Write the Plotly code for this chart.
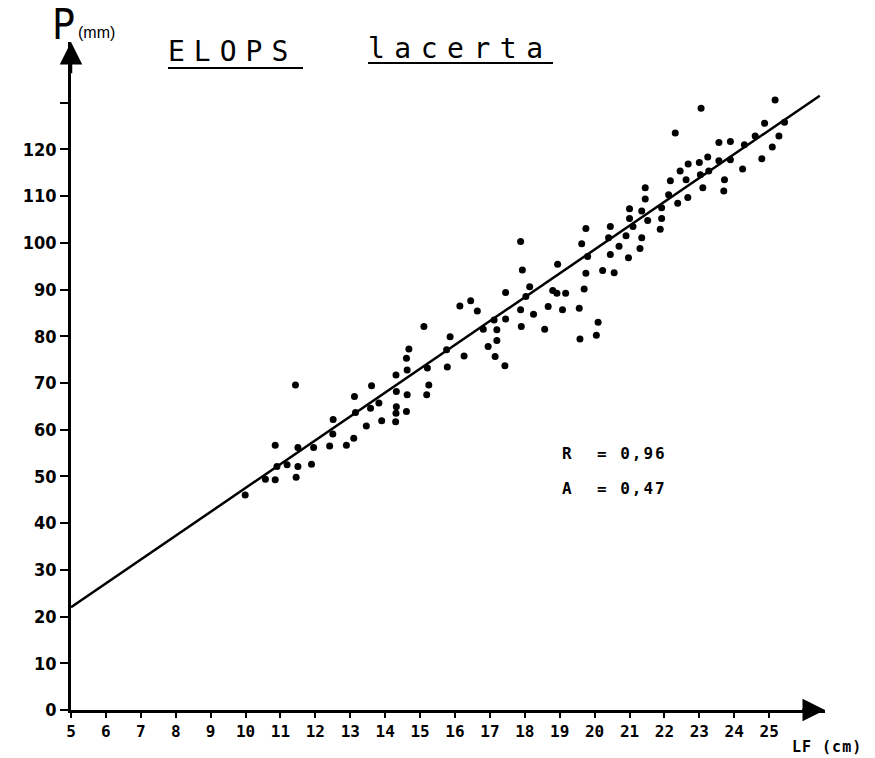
import plotly.graph_objects as go

# ---- data ----
lf_cm = [9.99, 10.57, 10.85, 10.85, 10.9, 11.19, 11.45, 11.5, 11.5, 11.89, 11.95, 11.43, 12.41, 12.51, 12.5,
         12.89, 13.1, 13.15, 13.12, 13.46, 13.61, 13.58, 13.82, 13.9, 14.3, 14.31, 14.32, 14.32, 14.31, 14.61,
         14.63, 14.63, 14.61, 14.68, 15.11, 15.19, 15.25, 15.21, 15.76, 15.78, 15.86,
         23.05, 25.17, 22.31, 23.89, 23.56, 24.29, 24.6, 24.87, 25.44, 25.28, 25.09, 24.79, 24.24, 23.72, 23.70,
         23.89, 23.56, 23.24, 23.0, 22.68, 22.45, 23.03, 23.27, 23.1, 22.62, 22.17, 21.45, 21.45, 22.12, 22.38,
         22.67, 21.92, 21.92, 21.88, 21.52, 21.35, 21.0, 21.0, 21.1, 21.35, 21.3, 20.97, 20.9, 20.7, 20.45,
         20.4, 20.45, 20.56, 20.23, 19.75, 19.63, 19.8, 19.75, 19.7, 19.56, 20.1, 20.05, 19.58, 19.17, 18.92,
         18.8, 18.94, 19.08, 18.67, 18.57, 18.25, 18.14, 17.93, 17.88, 18.03, 17.88, 17.9, 17.45, 17.45, 17.2,
         17.2, 17.12, 16.95, 17.15, 17.43, 16.26, 16.45, 16.14, 16.64, 16.81]
p_mm = [46.0, 49.4, 49.3, 56.7, 52.1, 52.5, 49.8, 52.1, 56.2, 52.6, 56.2, 69.6, 56.5, 62.2, 59.1,
        56.7, 58.2, 63.7, 67.1, 60.8, 69.4, 64.6, 65.7, 61.9, 61.7, 63.5, 64.9, 68.2, 71.7, 63.9,
        67.5, 72.8, 75.3, 77.3, 82.1, 67.5, 69.6, 73.2, 77.1, 73.4, 79.9,
        128.8, 130.6, 123.5, 121.7, 121.5, 121.0, 122.9, 125.6, 125.8, 122.9, 120.5, 118.0, 115.8, 113.5, 111.1,
        117.8, 117.6, 118.4, 117.2, 116.9, 115.4, 114.6, 115.4, 111.8, 113.5, 113.3, 111.8, 109.4, 110.3, 108.5,
        109.7, 107.5, 105.2, 102.9, 104.8, 106.8, 107.3, 105.2, 103.5, 101.1, 98.8, 96.8, 101.5, 99.3, 103.5,
        101.1, 97.5, 93.6, 94.1, 103.1, 99.8, 97.1, 93.5, 90.1, 86.0, 83.0, 80.2, 79.4, 89.2, 89.2,
        89.8, 95.4, 85.7, 86.4, 81.5, 84.7, 90.6, 94.2, 100.3, 88.5, 85.7, 82.1, 89.4, 83.7, 81.4,
        79.1, 83.5, 77.8, 75.7, 73.7, 75.8, 87.6, 86.5, 85.4, 81.5]

reg_x = [5, 26.45]
reg_y = [22, 131.5]

x_tickvals = list(range(5, 26))
x_ticktext = [str(v) for v in x_tickvals]
y_tickvals = [0, 10, 20, 30, 40, 50, 60, 70, 80, 90, 100, 110, 120, 130]
y_ticktext = ["0", "10", "20", "30", "40", "50", "60", "70", "80", "90", "100", "110", "120", ""]

stats_lines = ["R  = 0,96", "A  = 0,47"]

# ---- figure ----
L, R, T, B = 71, 50, 42, 48
W, H = 875, 758
PW, PH = W - L - R, H - T - B


def px2paper(px, py):
    return (px - L) / PW, (H - B - py) / PH


fig = go.Figure()
fig.add_trace(go.Scatter(x=reg_x, y=reg_y, mode="lines",
                         line=dict(color="black", width=2.5), hoverinfo="skip"))
fig.add_trace(go.Scatter(x=lf_cm, y=p_mm, mode="markers",
                         marker=dict(color="black", size=7)))

axis_common = dict(showline=True, linecolor="black", linewidth=2.5, showgrid=False,
                   zeroline=False, ticks="outside", tickcolor="black", tickwidth=2)
fig.update_xaxes(range=[5, 26.6], tickvals=x_tickvals, ticktext=x_ticktext, ticklen=5,
                 tickfont=dict(family="DejaVu Sans Mono", size=16, color="black", weight="bold"),
                 **axis_common)
fig.update_yaxes(range=[0, 143], tickvals=y_tickvals, ticktext=y_ticktext, ticklen=8,
                 tickfont=dict(family="Liberation Sans Narrow, DejaVu Sans Condensed", size=18,
                               color="black", weight="bold"),
                 **axis_common)

# axis arrowheads
fig.add_annotation(x=26.6, y=0, ax=25.9, ay=0, axref="x", ayref="y", xref="x", yref="y",
                   showarrow=True, arrowhead=2, arrowsize=1.8, arrowwidth=2.5, arrowcolor="black", text="")
fig.add_annotation(x=5, y=143, ax=5, ay=136, axref="x", ayref="y", xref="x", yref="y",
                   showarrow=True, arrowhead=2, arrowsize=1.8, arrowwidth=2.5, arrowcolor="black", text="")

def text_at(px, py, txt, size, family, xanchor="left", weight="normal", spacing=0):
    xp, yp = px2paper(px, py)
    if spacing:
        txt = f'<span style="letter-spacing:{spacing}px">{txt}</span>'
    fig.add_annotation(x=xp, y=yp, xref="paper", yref="paper", text=txt, showarrow=False,
                       xanchor=xanchor, yanchor="middle",
                       font=dict(family=family, size=size, color="black", weight=weight))

text_at(50, 24, "P", 42, "Liberation Sans Narrow, DejaVu Sans Condensed")
text_at(76, 33, "(mm)", 16, "Liberation Sans, Arial")
text_at(166, 52, "ELOPS", 28, "DejaVu Sans Mono", spacing=9)
text_at(366, 48, "lacerta", 28, "DejaVu Sans Mono", spacing=9.5)
text_at(560, 453, stats_lines[0], 16, "DejaVu Sans Mono", weight="bold", spacing=2)
text_at(560, 488, stats_lines[1], 16, "DejaVu Sans Mono", weight="bold", spacing=2)
text_at(790, 747, "LF (cm)", 15, "DejaVu Sans Mono", weight="bold", spacing=1)

# title underlines
for (x0, x1, yy) in [(168, 303, 68), (368, 553, 63)]:
    a0, b0 = px2paper(x0, yy)
    a1, b1 = px2paper(x1, yy)
    fig.add_shape(type="line", xref="paper", yref="paper", x0=a0, y0=b0, x1=a1, y1=b1,
                  line=dict(color="black", width=2))

fig.update_layout(width=W, height=H, margin=dict(l=L, r=R, t=T, b=B),
                  paper_bgcolor="white", plot_bgcolor="white", showlegend=False)

fig.write_html("out.html")
